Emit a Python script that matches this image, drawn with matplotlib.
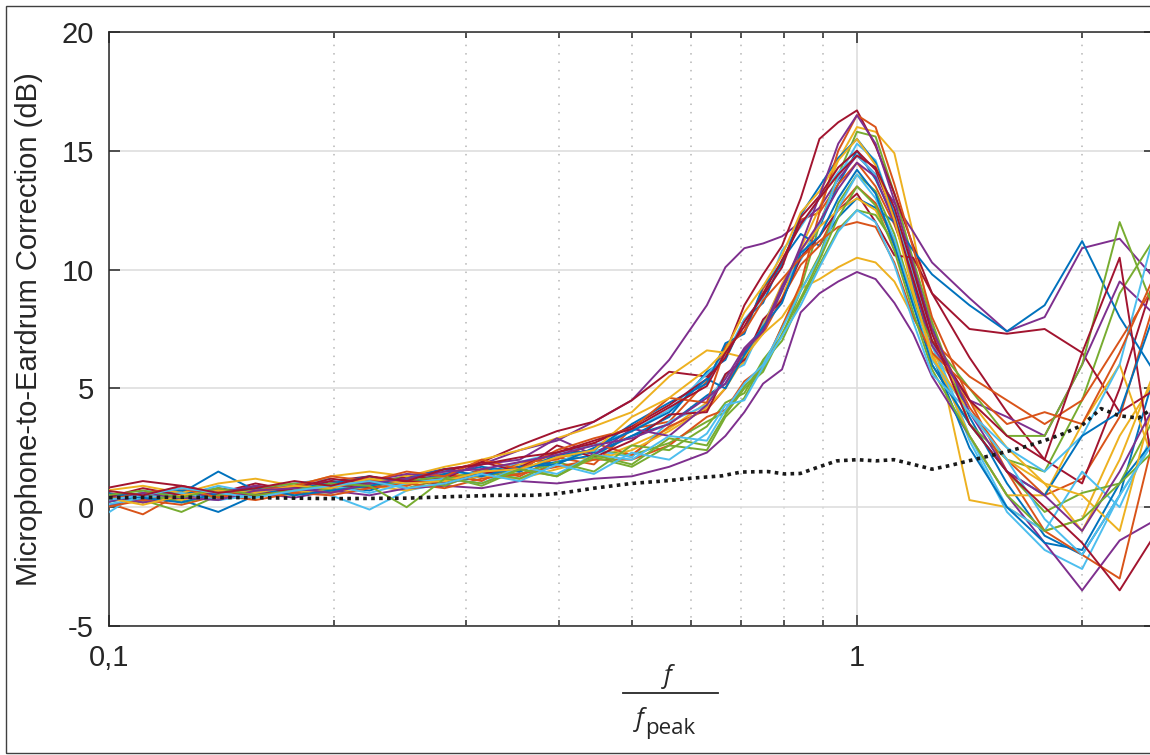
import matplotlib
matplotlib.use('Agg')
import matplotlib.pyplot as plt
from matplotlib.ticker import FixedLocator, NullFormatter
from matplotlib.patches import Rectangle
from matplotlib.lines import Line2D

plt.rcParams['axes.unicode_minus'] = False

# normalised frequency f / f_peak
x = [0.099, 0.111, 0.125, 0.14, 0.157, 0.177, 0.198, 0.223, 0.25, 0.281, 0.315, 0.354, 0.397, 0.445, 0.5,
     0.561, 0.63, 0.667, 0.707, 0.749, 0.794, 0.841, 0.891, 0.944, 1.0,
     1.059, 1.122, 1.189, 1.26, 1.414, 1.587, 1.782, 2.0, 2.245, 2.52]

# one curve per ear (dB)
c01 = [0.4, 0.6, 0.3, -0.2, 0.5, 0.8, 0.9, 0.7, 1.2, 1.1, 1.6, 1.5, 2.1, 2.3, 3.0, 3.5, 4.7, 5.2, 6.5, 7.4, 9.2, 10.5, 11.8, 13.6, 15.0, 13.8, 12.1, 10.0, 7.6, 3.8, 1.0, -1.2, -2.0, 0.5, 6.0]
c02 = [0.2, -0.3, 0.6, 0.5, 0.9, 0.6, 1.0, 0.8, 1.3, 1.0, 1.6, 1.3, 2.1, 1.8, 3.3, 3.6, 5.3, 6.8, 7.4, 9.2, 10.3, 12.1, 12.4, 13.6, 14.5, 13.5, 11.9, 9.8, 7.4, 4.2, 2.0, 0.5, 1.2, 3.8, 9.0]
c03 = [0.5, 0.3, 0.7, 0.4, 0.8, 0.9, 0.6, 1.0, 0.9, 1.4, 1.3, 1.8, 2.2, 2.0, 2.6, 3.3, 4.4, 5.5, 6.1, 7.8, 8.8, 10.9, 12.6, 14.6, 16.0, 15.8, 14.9, 11.5, 7.5, 0.3, 0.0, -1.0, -0.5, 3.0, 5.5]
c04 = [0.3, 0.5, 0.4, 0.8, 0.6, 0.9, 1.1, 1.0, 1.3, 1.6, 1.8, 2.4, 2.8, 3.6, 4.5, 6.2, 8.5, 10.1, 10.9, 11.1, 11.4, 12.0, 12.6, 13.8, 14.8, 14.0, 12.8, 11.6, 10.3, 8.8, 7.4, 8.0, 10.9, 11.3, 9.5]
c05 = [0.1, 0.3, -0.2, 0.5, 0.7, 0.5, 0.9, 1.1, 0.8, 1.2, 1.5, 1.4, 1.9, 2.4, 2.2, 2.7, 3.6, 4.0, 5.1, 5.8, 7.6, 9.2, 11.9, 14.0, 15.8, 15.6, 13.2, 10.4, 7.8, 3.5, 2.0, 1.5, 4.5, 9.0, 11.5]
c06 = [0.6, 0.3, 0.5, 0.3, 0.6, 0.8, 0.5, -0.1, 0.7, 1.0, 1.5, 1.2, 1.9, 2.4, 2.1, 3.6, 4.3, 5.6, 6.0, 7.7, 9.3, 10.4, 11.9, 13.9, 15.3, 14.6, 12.4, 9.6, 6.8, 2.8, -0.2, -1.8, -2.6, 0.5, 3.0]
c07 = [0.8, 1.1, 0.9, 0.6, 1.0, 0.7, 1.1, 1.3, 1.0, 1.5, 1.9, 2.6, 3.2, 3.6, 4.5, 5.7, 5.5, 6.5, 8.5, 9.8, 11.0, 13.0, 15.5, 16.2, 16.7, 15.2, 13.2, 11.0, 9.0, 6.3, 4.0, 2.0, 1.0, 5.0, 10.0]
c08 = [0.0, 0.4, 0.6, 1.5, 0.7, 0.9, 0.8, 1.0, 1.2, 1.0, 1.3, 1.7, 1.9, 2.2, 3.0, 3.8, 5.7, 6.2, 7.9, 8.6, 10.4, 11.5, 11.0, 12.2, 13.0, 12.6, 12.0, 10.8, 9.8, 8.5, 7.4, 8.5, 11.2, 8.0, 5.5]
c09 = [0.5, 0.2, 0.4, 0.7, 0.5, 0.6, 1.0, 1.2, 0.9, 1.4, 1.1, 1.9, 2.0, 2.7, 2.2, 3.4, 4.1, 5.0, 6.6, 7.3, 8.8, 10.2, 11.0, 12.6, 13.5, 12.8, 11.2, 9.0, 7.0, 5.5, 4.5, 3.5, 4.5, 7.0, 9.5]
c10 = [0.2, 0.5, 0.3, 0.6, 0.4, 0.7, 0.6, 0.9, 0.7, 1.1, 1.3, 1.2, 1.6, 2.0, 2.4, 3.2, 4.2, 5.0, 6.3, 7.3, 8.0, 9.2, 9.6, 10.1, 10.5, 10.3, 9.5, 8.0, 6.5, 4.5, 2.5, 1.0, -1.0, 2.0, 6.0]
c11 = [0.1, 0.3, 0.5, 0.4, 0.6, 0.4, 0.7, 0.5, 0.8, 0.9, 0.8, 1.1, 1.0, 1.2, 1.3, 1.7, 2.3, 3.0, 4.0, 5.2, 5.8, 8.2, 9.0, 9.5, 9.9, 9.6, 8.6, 7.3, 5.5, 3.0, 0.5, -1.5, -3.5, -1.4, -0.5]
c12 = [0.4, 0.2, 0.6, 0.8, 0.4, 0.9, 0.7, 1.0, 1.3, 0.9, 1.5, 1.2, 1.9, 1.5, 2.6, 2.4, 3.4, 4.4, 4.8, 6.2, 7.2, 9.1, 10.6, 12.8, 14.0, 13.3, 11.5, 8.8, 6.0, 3.5, 1.5, -0.2, 0.6, 1.0, 4.0]
c13 = [-0.3, 0.7, 0.5, 0.9, 0.6, 1.0, 1.2, 0.8, 1.1, 1.5, 1.4, 1.9, 2.3, 2.6, 3.2, 4.1, 5.6, 6.4, 7.9, 8.8, 10.8, 11.8, 13.0, 14.1, 14.8, 14.0, 12.6, 9.8, 7.0, 3.0, 0.0, -1.0, 1.5, 0.0, 3.5]
c14 = [0.6, 0.4, 0.8, 0.5, 0.9, 0.7, 1.0, 0.8, 1.3, 1.2, 1.9, 1.5, 2.6, 2.1, 2.8, 3.9, 4.0, 5.6, 6.2, 7.9, 8.7, 10.5, 11.4, 12.5, 13.2, 12.0, 10.6, 10.5, 9.0, 7.5, 7.3, 7.5, 6.5, 4.0, 5.0]
c15 = [0.2, 0.5, 0.7, 0.4, 0.6, 0.8, 1.0, 1.3, 1.0, 1.4, 1.7, 1.5, 2.2, 2.4, 3.5, 4.4, 5.2, 6.9, 7.3, 9.3, 10.2, 12.3, 13.5, 14.7, 15.5, 14.5, 12.3, 9.3, 6.4, 2.5, 0.0, -1.5, -1.8, 1.0, 3.0]
c16 = [0.0, 0.3, 0.1, 0.5, 0.3, 0.6, 0.5, 0.8, 1.0, 0.8, 1.2, 1.4, 1.7, 2.0, 2.0, 2.6, 3.8, 4.1, 5.3, 5.9, 7.6, 9.4, 12.4, 15.0, 16.5, 16.0, 13.6, 10.9, 8.0, 4.5, 1.5, -1.0, -2.0, -3.0, 3.5]
c17 = [0.7, 0.9, 0.6, 1.0, 1.2, 0.9, 1.3, 1.5, 1.3, 1.7, 2.0, 2.4, 2.9, 3.4, 4.0, 5.5, 6.6, 6.5, 6.3, 7.6, 9.4, 10.8, 11.8, 12.5, 13.0, 12.5, 11.0, 9.0, 6.5, 3.0, 0.5, 0.5, 3.5, 6.0, 1.5]
c18 = [0.5, 0.2, 0.4, 0.6, 0.9, 0.7, 0.8, 1.1, 1.4, 1.3, 1.8, 2.0, 2.9, 2.2, 3.3, 3.0, 4.3, 5.4, 6.7, 7.5, 9.3, 10.8, 12.0, 13.4, 14.5, 13.9, 12.0, 9.5, 6.8, 4.5, 3.8, 3.0, 6.0, 9.5, 8.0]
c19 = [0.3, 0.6, 0.2, 0.5, 0.8, 1.0, 0.7, 0.9, 1.1, 1.3, 0.9, 1.6, 1.3, 2.1, 1.7, 2.6, 2.4, 3.8, 4.6, 6.1, 7.0, 8.7, 10.2, 11.7, 12.5, 12.3, 11.1, 8.5, 7.0, 5.0, 3.0, 3.0, 6.0, 12.0, 8.0]
c20 = [0.1, 0.4, 0.6, 0.3, 0.5, 0.7, 0.9, 0.6, 1.0, 1.2, 1.0, 1.7, 1.4, 2.2, 2.0, 3.0, 2.8, 4.1, 5.2, 6.0, 7.5, 9.1, 10.5, 12.6, 14.0, 13.0, 11.3, 8.6, 6.2, 4.0, 2.5, 1.5, 3.0, 6.0, 12.0]
c21 = [0.4, 0.8, 0.5, 0.7, 0.5, 0.8, 1.2, 1.0, 1.1, 1.0, 1.4, 1.7, 2.3, 2.7, 3.4, 4.3, 5.4, 6.3, 7.8, 8.9, 10.1, 12.2, 13.1, 14.3, 15.0, 14.2, 12.2, 9.6, 7.0, 4.5, 3.0, 2.0, 6.5, 10.5, 0.5]
c22 = [0.6, 0.4, 0.2, 0.6, 0.8, 0.5, 0.7, 0.9, 1.2, 1.6, 1.3, 1.7, 1.8, 2.5, 3.2, 4.0, 5.4, 5.0, 6.4, 7.6, 8.6, 10.7, 11.4, 13.0, 14.2, 13.2, 11.0, 8.5, 6.0, 3.5, 1.5, 0.5, 3.0, 4.0, 8.5]
c23 = [0.3, 0.6, 0.8, 0.4, 0.7, 0.9, 1.3, 1.1, 1.5, 1.3, 2.0, 1.6, 2.4, 2.9, 3.3, 4.6, 4.4, 6.7, 7.4, 8.7, 9.6, 10.5, 11.2, 11.8, 12.0, 11.8, 10.3, 8.0, 6.5, 5.0, 3.5, 4.0, 3.5, 6.5, 10.0]
c24 = [0.4, 0.1, 0.5, 0.7, 0.6, 0.9, 0.8, 1.2, 1.0, 1.1, 1.5, 1.6, 2.1, 2.4, 3.8, 4.6, 5.8, 6.6, 8.2, 9.3, 10.6, 12.4, 13.3, 14.6, 15.5, 14.4, 12.1, 9.1, 6.3, 4.0, 2.0, 1.0, 0.5, -1.0, 5.0]
c25 = [0.2, 0.6, 0.4, 0.3, 0.7, 0.8, 0.6, 1.0, 1.2, 1.5, 1.6, 1.9, 2.2, 2.6, 2.9, 3.5, 4.6, 5.2, 6.6, 7.4, 9.1, 11.0, 13.1, 15.3, 16.5, 15.3, 12.9, 10.2, 7.5, 4.0, 1.5, 0.5, -1.0, 1.5, 4.5]
c26 = [0.5, 0.7, 0.4, 0.8, 0.5, 0.7, 1.0, 0.9, 0.0, 1.2, 1.0, 1.6, 1.3, 2.2, 1.8, 2.9, 2.6, 3.9, 5.0, 5.7, 7.3, 8.8, 10.4, 12.2, 13.5, 12.7, 10.8, 8.2, 5.8, 3.0, 0.5, -1.0, -0.5, 1.0, 2.5]
c27 = [0.3, 0.5, 0.8, 0.6, 0.4, 0.7, 0.9, 1.1, 0.8, 1.0, 1.4, 1.1, 1.8, 1.4, 2.3, 2.0, 3.1, 4.3, 4.5, 5.9, 7.2, 8.5, 10.1, 11.6, 12.5, 12.0, 10.2, 7.8, 5.6, 4.0, 2.0, -0.5, -2.0, 0.5, 3.0]
c28 = [0.7, 0.5, 0.9, 0.6, 0.8, 1.1, 0.9, 1.3, 1.1, 1.6, 1.8, 2.1, 2.3, 2.8, 3.3, 4.2, 5.1, 6.5, 7.6, 9.0, 10.4, 11.9, 13.0, 14.0, 14.8, 14.3, 12.6, 10.0, 7.3, 3.5, 1.5, 0.0, -1.5, -3.5, -1.0]

# average (dotted black line)
mean_x = [0.1, 0.125, 0.158, 0.2, 0.25, 0.29, 0.33, 0.37, 0.4, 0.445, 0.5, 0.56, 0.6, 0.66, 0.7, 0.76, 0.8,
          0.84, 0.89, 0.94, 1.0, 1.06, 1.12, 1.19, 1.26, 1.33, 1.41, 1.5, 1.59, 1.68, 1.78, 1.89, 2.0,
          2.12, 2.24, 2.38, 2.52]
mean_y = [0.4, 0.42, 0.4, 0.36, 0.38, 0.45, 0.5, 0.5, 0.58, 0.8, 1.0, 1.12, 1.22, 1.32, 1.48, 1.5, 1.4,
          1.42, 1.7, 1.95, 2.0, 1.95, 2.0, 1.8, 1.6, 1.75, 1.95, 2.15, 2.35, 2.55, 2.8, 3.1, 3.45,
          4.15, 3.85, 3.75, 4.3]

curves = [c01, c02, c03, c04, c05, c06, c07, c08, c09, c10, c11, c12, c13, c14,
          c15, c16, c17, c18, c19, c20, c21, c22, c23, c24, c25, c26, c27, c28]
colors = ['#0072BD', '#D95319', '#EDB120', '#7E2F8E', '#77AC30', '#4DBEEE', '#A2142F']

W, H = 1150, 755
fig = plt.figure(figsize=(W / 100, H / 100), dpi=100)
fig.patch.set_facecolor('white')

# axes placed in pixels (left 109, top 32, bottom 626, right past the edge)
ax = fig.add_axes([109 / W, (H - 626) / H, 1045.6 / W, 594 / H])

for i, c in enumerate(curves):
    ax.plot(x, c, color=colors[i % 7], lw=1.4, zorder=3)
ax.plot(mean_x, mean_y, color='#1a1a1a', lw=2.6, ls=(0, (1, 1.2)), zorder=5)

ax.set_xscale('log')
ax.set_xlim(0.1, 2.5)
ax.set_ylim(-5, 20)

tick_font = {'family': 'Liberation Sans', 'size': 21}
ax.set_xticks([0.1, 1])
ax.set_xticklabels(['0,1', '1'], fontdict=tick_font, color='#262626')
ax.xaxis.set_minor_locator(FixedLocator([0.2, 0.3, 0.4, 0.5, 0.6, 0.7, 0.8, 0.9, 2]))
ax.xaxis.set_minor_formatter(NullFormatter())
yt = [-5, 0, 5, 10, 15, 20]
ax.set_yticks(yt)
ax.set_yticklabels([str(v) for v in yt], fontdict=tick_font, color='#262626')

ax.tick_params(which='both', direction='in', top=True, right=True, color='#262626', width=1.1)
ax.tick_params(which='major', length=8)
ax.tick_params(which='minor', length=4)
ax.tick_params(axis='x', which='major', pad=13)
ax.tick_params(axis='y', which='major', pad=11)

ax.grid(True, which='major', color='#dedede', lw=1.2)
ax.grid(True, which='minor', axis='x', color='#b5b5b5', lw=1.1, ls=(0, (1, 4.5)))
ax.set_axisbelow(True)
for s in ax.spines.values():
    s.set_color('#262626')
    s.set_linewidth(1.1)

# y label
fig.text(29 / W, 1 - 329 / H, 'Microphone-to-Eardrum Correction (dB)', rotation=90,
         ha='center', va='center', family='Liberation Sans', size=21, color='#262626')

# x label as a fraction f / f_peak
fig.text(668 / W, 1 - 683 / H, 'f', ha='center', va='baseline', family='Open Sans',
         style='italic', size=18, color='#262626')
fig.add_artist(Line2D([623 / W, 718 / W], [1 - 693 / H, 1 - 693 / H], color='#262626', lw=1.3))
fig.text(640 / W, 1 - 726 / H, 'f', ha='center', va='baseline', family='Open Sans',
         style='italic', size=18, color='#262626')
fig.text(645 / W, 1 - 734 / H, 'peak', ha='left', va='baseline', family='Open Sans',
         size=16, color='#262626')

# thin frame round the whole figure
fig.add_artist(Rectangle((6 / W, 2 / H), 1.0, 747 / H, transform=fig.transFigure,
                         fill=False, edgecolor='#404040', lw=1.0, clip_on=False))

plt.savefig('out.png', dpi=100)
